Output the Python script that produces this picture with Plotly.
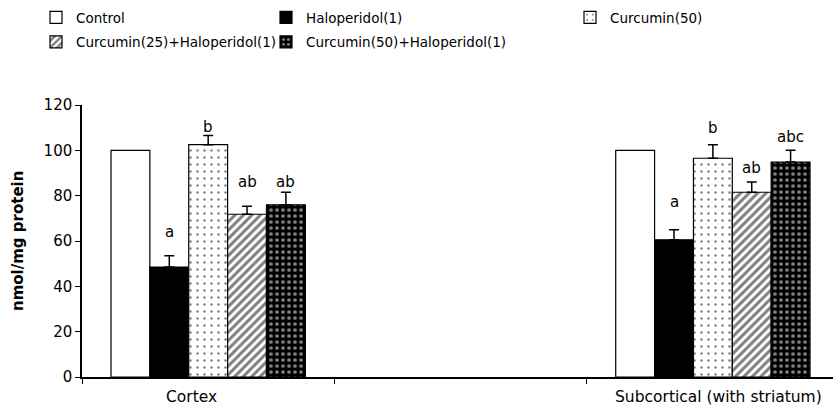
import plotly.graph_objects as go

categories = ["Cortex", " ", "Subcortical (with striatum)"]
groups = ["Control", "Haloperidol(1)", "Curcumin(50)",
          "Curcumin(25)+Haloperidol(1)", "Curcumin(50)+Haloperidol(1)"]

# values per group: [Cortex, (empty), Subcortical]
control = [100, None, 100]
haloperidol = [48.5, None, 60.5]
curcumin50 = [102.5, None, 96.5]
cur25_hal = [71.8, None, 81.5]
cur50_hal = [76.0, None, 94.8]

err_control = [0, 0, 0]
err_haloperidol = [5.0, 0, 4.5]
err_curcumin50 = [4.0, 0, 6.0]
err_cur25_hal = [3.5, 0, 4.5]
err_cur50_hal = [5.5, 0, 5.2]

# significance letters and their vertical position (data units)
letters = [None, ["a", None, "a"], ["b", None, "b"], ["ab", None, "ab"], ["ab", None, "abc"]]
letters_y = [None, [64, None, 77], [110.5, None, 110], [86, None, 92], [86, None, 106]]

values = [control, haloperidol, curcumin50, cur25_hal, cur50_hal]
errors = [err_control, err_haloperidol, err_curcumin50, err_cur25_hal, err_cur50_hal]

styles = [
    dict(color="white", pattern=None),
    dict(color="black", pattern=None),
    dict(color="white", pattern=dict(shape=".", fgcolor="black", bgcolor="white", size=7, solidity=0.1, fillmode="overlay")),
    dict(color="white", pattern=dict(shape="/", fgcolor="black", bgcolor="white", size=6, solidity=0.5, fillmode="overlay")),
    dict(color="black", pattern=dict(shape=".", fgcolor="white", bgcolor="black", size=6, solidity=0.3, fillmode="overlay")),
]
legend_ids = ["legend", "legend2", "legend3", "legend", "legend2"]
label_shift = [-0.068, 0, 0.024]

FONT = "DejaVu Sans"
fig = go.Figure()
for i, g in enumerate(groups):
    marker = dict(color=styles[i]["color"], line=dict(color="black", width=1.2))
    if styles[i]["pattern"]:
        marker["pattern"] = styles[i]["pattern"]
    has_err = any(e > 0 for e in errors[i])
    trace = go.Bar(name=g, x=categories, y=values[i], marker=marker,
                   legend=legend_ids[i], legendgroup=g)
    if has_err:
        trace.error_y = dict(type="data", symmetric=False, array=errors[i],
                             arrayminus=[0] * len(errors[i]), color="black",
                             thickness=1.5, width=5)
    fig.add_trace(trace)

bargap = 0.23
w = (1 - bargap) / len(groups)
for i in range(len(groups)):
    if letters[i] is None:
        continue
    for ci in range(len(categories)):
        if letters[i][ci] is None:
            continue
        fig.add_annotation(x=ci + (i - 2) * w, y=letters_y[i][ci], text=letters[i][ci],
                           showarrow=False, font=dict(family=FONT, size=15, color="black"),
                           xref="x", yref="y")

# category labels
for ci, c in enumerate(categories):
    if c.strip():
        fig.add_annotation(x=ci + label_shift[ci], y=0, xref="x", yref="paper",
                           yanchor="top", yshift=-9, text=c, showarrow=False,
                           font=dict(family=FONT, size=15.5, color="black"))

# y-axis title
fig.add_annotation(x=(18 - 82) / 751, y=0.5, xref="paper", yref="paper", text="<b>nmol/mg protein</b>",
                   textangle=-90, showarrow=False, xanchor="center", yanchor="middle",
                   font=dict(family=FONT, size=15, color="black"))

legend_common = dict(orientation="v", xref="container", yref="container",
                     xanchor="left", yanchor="top", bgcolor="rgba(0,0,0,0)",
                     font=dict(family=FONT, size=13.5, color="black"), tracegroupgap=4)
fig.update_layout(
    width=833, height=410,
    margin=dict(l=82, r=0, t=105, b=33, autoexpand=False),
    paper_bgcolor="white", plot_bgcolor="white",
    barmode="group", bargap=bargap, bargroupgap=0,
    font=dict(family=FONT, size=15, color="black"),
    legend=dict(x=36 / 833, y=0.995, **legend_common),
    legend2=dict(x=266 / 833, y=0.995, **legend_common),
    legend3=dict(x=570 / 833, y=0.995, **legend_common),
    xaxis=dict(type="category", categoryorder="array", categoryarray=categories,
               range=[-0.5, 2.476], showline=True, linecolor="black", linewidth=1.5,
               ticks="outside", tickson="boundaries", ticklen=5, tickcolor="black",
               showgrid=False, zeroline=False, showticklabels=False),
    yaxis=dict(range=[0, 120], dtick=20, showline=True, linecolor="black", linewidth=1.5,
               ticks="outside", ticklen=5, tickcolor="black", showgrid=False, zeroline=False,
               tickfont=dict(family=FONT, size=15, color="black")),
)

fig.write_html("out.html")
